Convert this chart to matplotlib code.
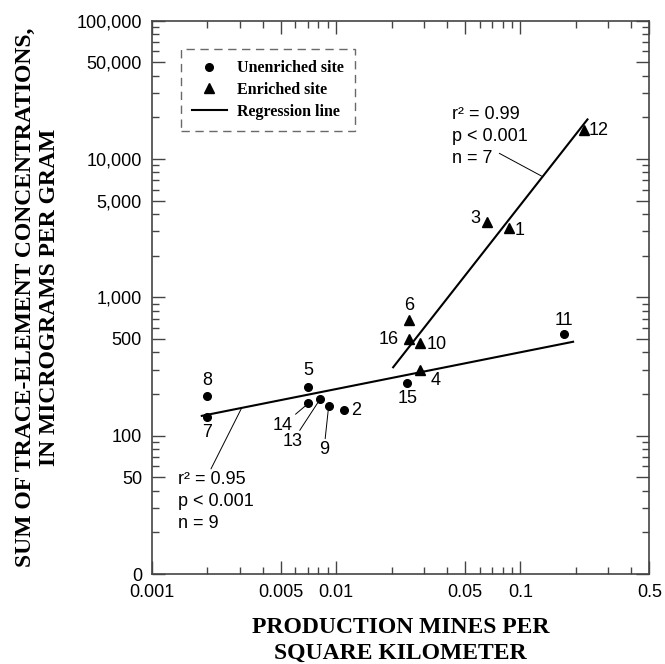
import numpy as np
import matplotlib
matplotlib.use('Agg')
import matplotlib.pyplot as plt
from matplotlib.lines import Line2D
from matplotlib.ticker import FixedLocator, FixedFormatter, LogLocator, NullFormatter

SANS = 'Liberation Sans'
SERIF = 'Liberation Serif'

# sites without enrichment (circles)
unenriched_site = ['8', '7', '5', '14', '13', '9', '2', '15', '11']
unenriched_mines = [0.002, 0.002, 0.00707, 0.00707, 0.00818, 0.00912, 0.01104, 0.0243, 0.1722]
unenriched_conc = [195, 137, 226, 171, 183, 164, 153, 239, 542]

# enriched sites (triangles)
enriched_site = ['6', '16', '10', '4', '3', '1', '12']
enriched_mines = [0.0249, 0.025, 0.0285, 0.0285, 0.0661, 0.0869, 0.2209]
enriched_conc = [684, 497, 469, 296, 3513, 3147, 16150]

# regression lines, end points as drawn
unenriched_fit_mines = [0.00187, 0.193]
unenriched_fit_conc = [139, 477]
enriched_fit_mines = [0.0204, 0.231]
enriched_fit_conc = [312, 19290]

unenriched_stats = 'r\u00b2 = 0.95\np < 0.001\nn = 9'
enriched_stats = 'r\u00b2 = 0.99\np < 0.001\nn = 7'

x_ticks = [0.001, 0.005, 0.01, 0.05, 0.1, 0.5]
x_tick_labels = ['0.001', '0.005', '0.01', '0.05', '0.1', '0.5']
y_ticks = [10, 50, 100, 500, 1000, 5000, 10000, 50000, 100000]
y_tick_labels = ['0', '50', '100', '500', '1,000', '5,000', '10,000', '50,000', '100,000']

# label offsets (points) from each marker; True = thin leader line
unenriched_offsets = [(0, 10.5), (0, -11.5), (0, 11.5), (-18.4, -15.6), (-19.9, -30.5),
                      (-3.4, -31.7), (9.1, -0.5), (0, -11.1), (0, 10.1)]
unenriched_leader = [False, False, False, True, True, True, False, False, False]
enriched_offsets = [(0, 10.6), (-14.9, 0), (12, -0.9), (11.5, -7), (-8.4, 2.4), (7.2, -1.2), (10.3, 0)]

AXIS_GREY = '#444444'


def point_on_line(xs, ys, x):
    """y on a straight line in log-log space at x."""
    ly = np.interp(np.log10(x), np.log10(xs), np.log10(ys))
    return 10 ** ly


fig = plt.figure(figsize=(6.65, 6.64), dpi=100)
ax = fig.add_axes([0.2281, 0.1355, 0.7483, 0.8336])
ax.set_xscale('log')
ax.set_yscale('log')
ax.set_xlim(0.001, 0.5)
ax.set_ylim(10, 100000)

ax.plot(unenriched_fit_mines, unenriched_fit_conc, color='black', lw=1.5)
ax.plot(enriched_fit_mines, enriched_fit_conc, color='black', lw=1.5)
ax.plot(unenriched_mines, unenriched_conc, 'o', color='black', ms=5.5, ls='none')
ax.plot(enriched_mines, enriched_conc, '^', color='black', ms=7.5, ls='none')

for site, x, y, off, leader in zip(unenriched_site, unenriched_mines, unenriched_conc,
                                   unenriched_offsets, unenriched_leader):
    arrow = dict(arrowstyle='-', lw=0.7, color='black', shrinkA=0, shrinkB=3) if leader else None
    ax.annotate(site, (x, y), xytext=off, textcoords='offset points', ha='center', va='center',
                fontsize=13, family=SANS, arrowprops=arrow)

for site, x, y, off in zip(enriched_site, enriched_mines, enriched_conc, enriched_offsets):
    ax.annotate(site, (x, y), xytext=off, textcoords='offset points', ha='center', va='center',
                fontsize=13, family=SANS)

# regression statistics with leader lines to the fitted lines
ax.text(0.0424, 14450, enriched_stats, ha='left', va='center', fontsize=13, family=SANS,
        linespacing=1.4)
x_end = 0.1319
ax.annotate('', (x_end, point_on_line(enriched_fit_mines, enriched_fit_conc, x_end)),
            xytext=(-31.2, 16.8), textcoords='offset points',
            arrowprops=dict(arrowstyle='-', lw=0.7, color='black', shrinkA=0, shrinkB=0))

ax.text(0.001394, 33.3, unenriched_stats, ha='left', va='center', fontsize=13, family=SANS,
        linespacing=1.4)
x_end = 0.003077
ax.annotate('', (x_end, point_on_line(unenriched_fit_mines, unenriched_fit_conc, x_end)),
            xytext=(-22.1, -43.9), textcoords='offset points',
            arrowprops=dict(arrowstyle='-', lw=0.7, color='black', shrinkA=0, shrinkB=0))

# ticks
ax.xaxis.set_major_locator(FixedLocator(x_ticks))
ax.xaxis.set_major_formatter(FixedFormatter(x_tick_labels))
ax.yaxis.set_major_locator(FixedLocator(y_ticks))
ax.yaxis.set_major_formatter(FixedFormatter(y_tick_labels))
ax.xaxis.set_minor_locator(LogLocator(base=10, subs=(2, 3, 4, 6, 7, 8, 9), numticks=20))
ax.yaxis.set_minor_locator(LogLocator(base=10, subs=(2, 3, 4, 6, 7, 8, 9), numticks=20))
ax.xaxis.set_minor_formatter(NullFormatter())
ax.yaxis.set_minor_formatter(NullFormatter())
ax.tick_params(which='both', direction='in', top=True, right=True, color=AXIS_GREY, width=1)
ax.tick_params(which='major', length=9.4, pad=7, labelsize=13)
ax.tick_params(which='minor', length=5)
for lab in ax.get_xticklabels() + ax.get_yticklabels():
    lab.set_family(SANS)
for spine in ax.spines.values():
    spine.set_color(AXIS_GREY)
    spine.set_linewidth(1.2)

ax.set_xlabel('PRODUCTION MINES PER\nSQUARE KILOMETER', family=SERIF, weight='bold',
              fontsize=17, linespacing=1.3, labelpad=12)
ax.set_ylabel('SUM OF TRACE-ELEMENT CONCENTRATIONS,\nIN MICROGRAMS PER GRAM', family=SERIF,
              weight='bold', fontsize=17, linespacing=1.15, labelpad=12)

handles = [
    Line2D([], [], marker='o', ls='none', color='black', ms=5.5, label='Unenriched site'),
    Line2D([], [], marker='^', ls='none', color='black', ms=7.5, label='Enriched site'),
    Line2D([], [], color='black', lw=1.5, label='Regression line'),
]
leg = ax.legend(handles=handles, loc='upper left', bbox_to_anchor=(0.0583, 0.948),
                borderaxespad=0, frameon=True, fancybox=False, handlelength=2.2,
                handletextpad=0.6, borderpad=0.7, labelspacing=0.35,
                prop={'family': SERIF, 'weight': 'bold', 'size': 11.5})
frame = leg.get_frame()
frame.set_edgecolor(AXIS_GREY)
frame.set_linewidth(1.0)
frame.set_linestyle((0, (6, 4)))

fig.savefig('out.png', dpi=100)
